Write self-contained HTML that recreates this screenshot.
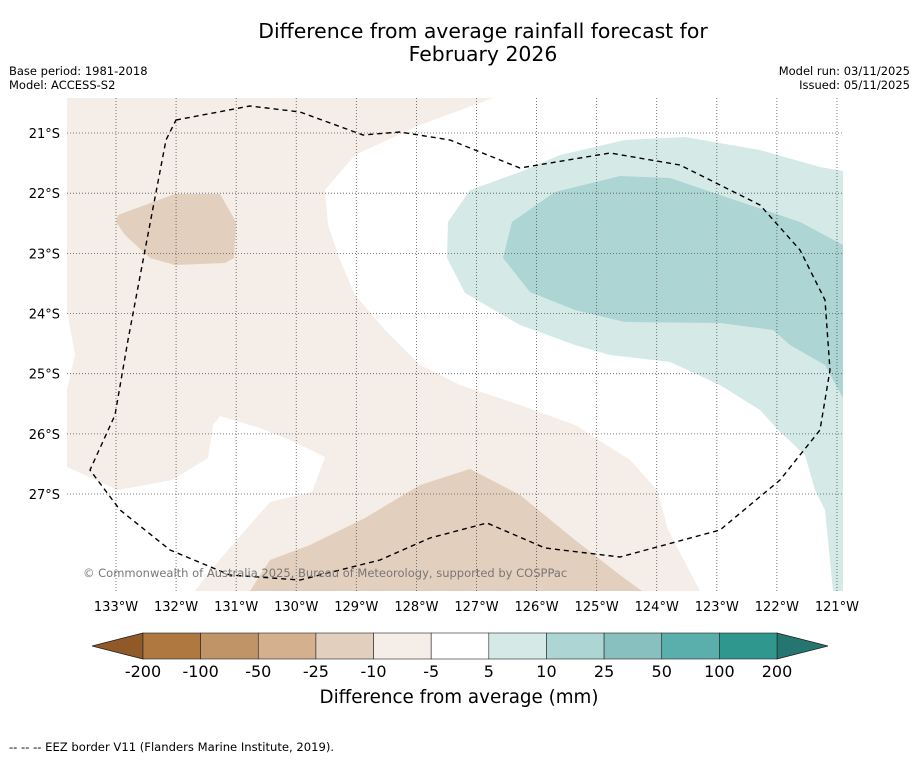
<!DOCTYPE html>
<html><head><meta charset="utf-8"><style>
body{margin:0;background:#fff;}
svg text{font-family:"DejaVu Sans","Liberation Sans",sans-serif;}
</style></head><body>
<svg width="919" height="758" viewBox="0 0 919 758" xmlns="http://www.w3.org/2000/svg">
<text x="483" y="38" text-anchor="middle" font-size="20.4">Difference from average rainfall forecast for</text>
<text x="483" y="61" text-anchor="middle" font-size="20.4">February 2026</text>
<text x="9" y="75" font-size="11.5">Base period: 1981-2018</text>
<text x="9" y="89" font-size="11.5">Model: ACCESS-S2</text>
<text x="910" y="75" font-size="11.5" text-anchor="end">Model run: 03/11/2025</text>
<text x="910" y="89" font-size="11.5" text-anchor="end">Issued: 05/11/2025</text>
<defs><clipPath id="mc"><rect x="67" y="98" width="776" height="493"/></clipPath></defs>
<g id="map" clip-path="url(#mc)">
<rect x="67" y="98" width="776" height="493" fill="#fff"/>
<polygon fill="#f5ede7" points="67,98 493,98 420,125 355,155 325,190 328,225 340,260 355,295 385,330 420,365 460,385 520,405 575,425 630,460 657,490 668,530 700,591 195,591 215,565 270,502 312,492 325,457 290,440 260,428 220,416 213,425 208,458 172,480 118,490 67,467 67,390 75,355 67,310"/>
<polygon fill="#e3cfbe" points="118,215 175,194 220,194 236,222 234,258 225,263 175,265 150,258 125,235 116,222"/>
<polygon fill="#e3cfbe" points="250,591 270,560 310,545 365,518 420,485 470,469 520,495 575,540 620,575 642,591"/>
<polygon fill="#d5e9e7" points="470,190 520,172 560,155 625,140 685,137 760,150 820,167 843,171 843,591 833,591 825,510 815,490 805,455 778,430 760,410 720,385 670,362 610,355 575,345 520,325 465,293 447,258 448,222"/>
<polygon fill="#acd5d4" points="512,222 555,192 620,176 670,178 720,195 800,222 843,245 843,398 825,365 790,345 773,330 720,323 625,322 575,310 530,292 503,258"/>
<g id="grid" stroke="#555" stroke-width="0.8" stroke-dasharray="1,2"></g>
<path fill="none" stroke="#000" stroke-width="1.4" stroke-dasharray="5,4" d="M176,120 L250,106 L300,112 L363,135 L400,132 L450,140 L520,168 L610,153 L680,165 L760,205 L800,250 L825,300 L830,370 L820,430 L780,480 L720,530 L620,557 L545,548 L487,523 L430,538 L380,560 L300,580 L230,575 L170,550 L120,510 L90,470 L115,415 L128,340 L145,250 L166,140 Z"/>
<text x="83" y="577" font-size="11.5" fill="#777">© Commonwealth of Australia 2025, Bureau of Meteorology, supported by COSPPac</text>
</g>
<g id="axes"></g>
<g id="cbar"></g>
<text x="459" y="703" text-anchor="middle" font-size="18.3">Difference from average (mm)</text>
<text x="9" y="751" font-size="11.6">--  --  -- EEZ border V11 (Flanders Marine Institute, 2019).</text>
</svg>
<script>
const lonTicks=[-133,-132,-131,-130,-129,-128,-127,-126,-125,-124,-123,-122,-121];
const latTicks=[-21,-22,-23,-24,-25,-26,-27];
const cbarBounds=["-200","-100","-50","-25","-10","-5","5","10","25","50","100","200"];
const cbarColors=["#ae7840","#c19468","#d4b08e","#e3cfbe","#f5ede7","#ffffff","#d5e9e7","#acd5d4","#87c0be","#5aaeac","#30978f"];
const NS="http://www.w3.org/2000/svg";
const X=lon=>116+(lon+133)*60.08, Y=lat=>133+(-21-lat)*60.17;
function mk(t,a,p){const e=document.createElementNS(NS,t);for(const k in a)e.setAttribute(k,a[k]);p.appendChild(e);return e;}
const grid=document.getElementById('grid'),axes=document.getElementById('axes');
lonTicks.forEach(l=>{
 const g=mk('line',{x1:X(l),x2:X(l),y1:98,y2:591},grid);
 
 
 const t=mk('text',{x:X(l),y:611,'text-anchor':'middle','font-size':13},axes);
 
 
 t.textContent=Math.abs(l)+'°W';
});
latTicks.forEach(l=>{
 const g=mk('line',{x1:67,x2:843,y1:Y(l),y2:Y(l)},grid);
 
 
 const t=mk('text',{x:60,y:Y(l)+5,'text-anchor':'end','font-size':13},axes);
 
 
 t.textContent=Math.abs(l)+'°S';
});
const cb=document.getElementById('cbar');
const x0=143,x1=777,y0=633,y1=659,w=(x1-x0)/cbarColors.length;
const L=mk('polygon',{points:`${x0},${y0} ${x0},${y1} 92,646`,fill:'#8f5a28',stroke:'#222','stroke-width':0.8},cb);


const R=mk('polygon',{points:`${x1},${y0} ${x1},${y1} 828,646`,fill:'#257570',stroke:'#222','stroke-width':0.8},cb);


cbarColors.forEach((c,i)=>{
 const r=mk('rect',{x:x0+i*w,y:y0,width:w,height:y1-y0,fill:c,stroke:'#222','stroke-width':0.6},cb);
 
 
});
cbarBounds.forEach((b,i)=>{
 const t=mk('text',{x:x0+i*w,y:677,'text-anchor':'middle','font-size':16},cb);
 
 
 t.textContent=b;
});
</script>
</body></html>
